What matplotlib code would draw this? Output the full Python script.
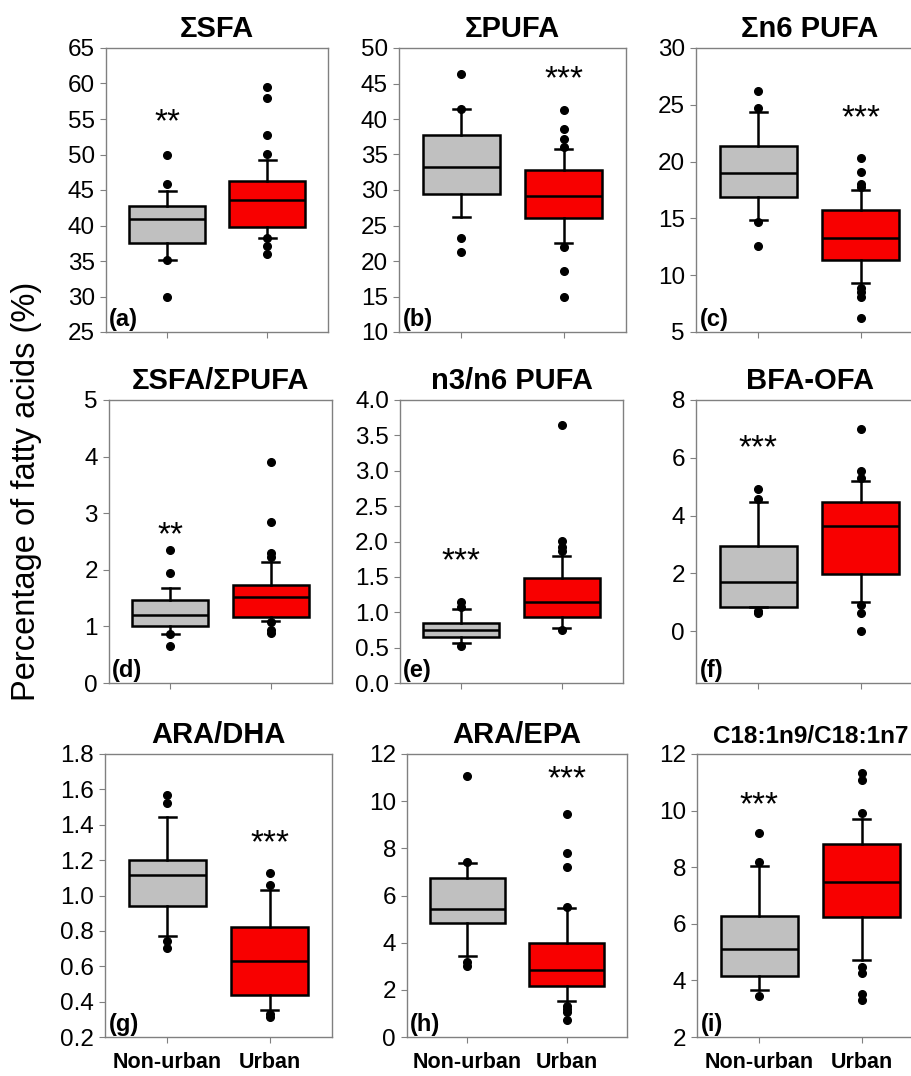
''' Box plots of fatty acid indices, non-urban vs urban '''
import matplotlib.pyplot as plt

plt.rcParams['font.family'] = ['Liberation Sans', 'DejaVu Sans']

# data
titles = ['ΣSFA', 'ΣPUFA', 'Σn6 PUFA', 'ΣSFA/ΣPUFA', 'n3/n6 PUFA', 'BFA-OFA',
          'ARA/DHA', 'ARA/EPA', 'C18:1n9/C18:1n7']
letters = ['(a)', '(b)', '(c)', '(d)', '(e)', '(f)', '(g)', '(h)', '(i)']
groups = ['Non-urban', 'Urban']

# non-urban box stats per panel
nu_whislo = [35.1, 26.2, 14.85, 0.87, 0.56, 0.82, 0.772, 3.42, 3.67]
nu_q1 = [37.6, 29.5, 16.9, 1.0, 0.645, 0.82, 0.943, 4.83, 4.16]
nu_med = [40.86, 33.3, 19.0, 1.21, 0.75, 1.69, 1.117, 5.42, 5.1]
nu_q3 = [42.8, 37.7, 21.4, 1.47, 0.85, 2.95, 1.198, 6.73, 6.28]
nu_whishi = [44.9, 41.4, 24.4, 1.68, 1.05, 4.47, 1.446, 7.36, 8.06]
nu_out = [[49.9, 45.8, 35.1, 29.9],
          [46.4, 41.4, 23.2, 21.3],
          [26.2, 24.7, 14.7, 12.6],
          [2.35, 1.94, 0.87, 0.65],
          [1.15, 1.08, 0.53],
          [4.92, 4.56, 0.71, 0.62],
          [1.568, 1.521, 0.74, 0.703],
          [11.07, 7.4, 3.17, 3.02],
          [9.2, 8.2, 3.44]]

# urban box stats per panel
u_whislo = [38.3, 22.6, 9.35, 1.1, 0.78, 1.0, 0.354, 1.51, 4.71]
u_q1 = [39.8, 26.1, 11.3, 1.16, 0.93, 1.96, 0.439, 2.17, 6.24]
u_med = [43.6, 29.2, 13.3, 1.52, 1.14, 3.64, 0.627, 2.82, 7.49]
u_q3 = [46.3, 32.8, 15.7, 1.74, 1.48, 4.46, 0.821, 3.98, 8.81]
u_whishi = [49.2, 35.8, 17.5, 2.14, 1.8, 5.21, 1.032, 5.46, 9.71]
u_out = [[59.5, 57.9, 52.8, 50.1, 38.3, 37.1, 36.0],
         [41.2, 38.6, 37.2, 36.1, 22.0, 18.6, 14.9],
         [20.35, 19.1, 18.0, 17.8, 8.9, 8.5, 8.1, 6.2],
         [3.9, 2.85, 2.3, 2.22, 1.07, 0.94, 0.88],
         [3.64, 2.01, 1.92, 1.87, 0.75],
         [6.98, 5.55, 5.29, 0.9, 0.62, 0.0],
         [1.126, 1.06, 0.33, 0.313],
         [9.44, 7.79, 7.19, 5.53, 1.33, 1.19, 1.05, 0.71],
         [11.32, 11.09, 9.93, 4.49, 4.26, 3.53, 3.29]]

# significance stars: text, group (1 = non-urban, 2 = urban), height
stars = ['**', '***', '***', '**', '***', '***', '***', '***', '***']
star_group = [1, 2, 2, 1, 1, 1, 2, 2, 1]
star_y = [54.4, 45.5, 23.8, 2.6, 1.72, 6.3, 1.29, 10.9, 10.16]

# axis ranges and ticks
ylims = [(25, 65), (10, 50), (5, 30), (0, 5), (0, 4), (-1.8, 8), (0.2, 1.8), (0, 12), (2, 12)]
yticks = [[25, 30, 35, 40, 45, 50, 55, 60, 65],
          [10, 15, 20, 25, 30, 35, 40, 45, 50],
          [5, 10, 15, 20, 25, 30],
          [0, 1, 2, 3, 4, 5],
          [0.0, 0.5, 1.0, 1.5, 2.0, 2.5, 3.0, 3.5, 4.0],
          [0, 2, 4, 6, 8],
          [0.2, 0.4, 0.6, 0.8, 1.0, 1.2, 1.4, 1.6, 1.8],
          [0, 2, 4, 6, 8, 10, 12],
          [2, 4, 6, 8, 10, 12]]
ytick_fmt = ['{:g}', '{:g}', '{:g}', '{:g}', '{:.1f}', '{:g}', '{:.1f}', '{:g}', '{:g}']

# panel boxes in pixels: left, top, right, bottom
W, H = 911, 1076
panel_px = [(106, 48, 328, 332), (399, 48, 626, 332), (696, 48, 923, 332),
            (109, 400, 332, 683), (400, 400, 623, 683), (696, 400, 923, 683),
            (105, 754, 332, 1037), (407, 754, 627, 1037), (697, 754, 924, 1037)]

fig = plt.figure(figsize=(W / 100, H / 100), dpi=100)

for i in range(9):
    l, t, r, b = panel_px[i]
    ax = fig.add_axes([l / W, 1 - b / H, (r - l) / W, (b - t) / H])

    stats = [
        dict(whislo=nu_whislo[i], q1=nu_q1[i], med=nu_med[i], q3=nu_q3[i],
             whishi=nu_whishi[i], fliers=nu_out[i]),
        dict(whislo=u_whislo[i], q1=u_q1[i], med=u_med[i], q3=u_q3[i],
             whishi=u_whishi[i], fliers=u_out[i]),
    ]
    bp = ax.bxp(stats, positions=[1, 2], widths=0.76, capwidths=0.17,
                patch_artist=True,
                boxprops=dict(edgecolor='black', linewidth=1.8),
                medianprops=dict(color='black', linewidth=1.8),
                whiskerprops=dict(color='black', linewidth=1.8),
                capprops=dict(color='black', linewidth=1.8),
                flierprops=dict(marker='o', markerfacecolor='black',
                                markeredgecolor='black', markersize=5.5))
    bp['boxes'][0].set_facecolor('#c0c0c0')
    bp['boxes'][1].set_facecolor('#f80000')

    ax.set_xlim(0.39, 2.61)
    ax.set_ylim(*ylims[i])
    ax.set_yticks(yticks[i])
    ax.set_yticklabels([ytick_fmt[i].format(v) for v in yticks[i]])
    ax.set_xticks([1, 2])
    if i >= 6:
        ax.set_xticklabels(groups, fontweight='bold', fontsize=15.5)
    else:
        ax.set_xticklabels([])
    ax.tick_params(axis='y', labelsize=17.5, length=4, width=0.8,
                   color='#808080', pad=4)
    ax.tick_params(axis='x', length=4, width=0.8, color='#808080', pad=7)
    for sp in ax.spines.values():
        sp.set_color('#808080')
        sp.set_linewidth(1.0)

    fs = 17.5 if i == 8 else 21
    ax.set_title(titles[i], fontsize=fs, fontweight='bold', pad=8)
    ax.text(0.015, 0.005, letters[i], transform=ax.transAxes,
            fontsize=17, fontweight='bold', ha='left', va='bottom')
    ax.text(star_group[i], star_y[i], stars[i], fontsize=24,
            ha='center', va='center')

fig.text(27 / W, 1 - 491 / H, 'Percentage of fatty acids (%)',
         rotation=90, fontsize=23.5, ha='center', va='center')

fig.savefig('out.png', dpi=100)
